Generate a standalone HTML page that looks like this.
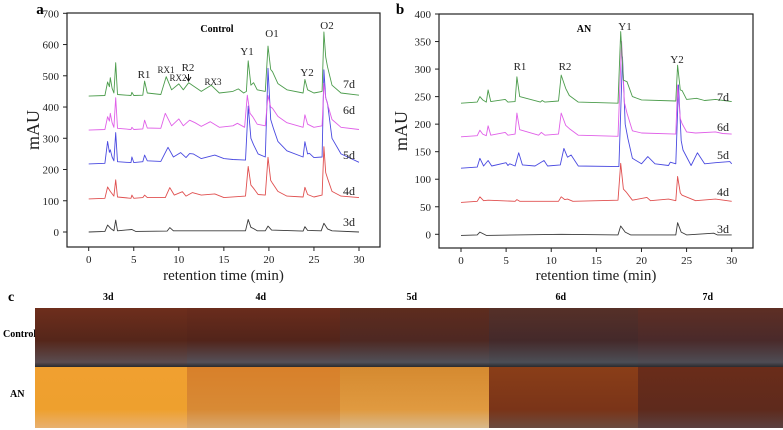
<!DOCTYPE html>
<html><head><meta charset="utf-8"><style>
body{margin:0;width:783px;height:430px;background:#fff;overflow:hidden;font-family:"Liberation Serif",serif;position:relative}
svg{position:absolute;left:0;top:0}
.ph{position:absolute}
.lbl{position:absolute;font-family:"Liberation Serif",serif;font-weight:bold;font-size:10px;color:#000}
</style></head><body>
<svg id="chart" width="783" height="300"></svg>

<div class="lbl" style="left:8px;top:290px;font-size:14px">c</div>
<div class="lbl" style="left:3px;top:329px">Control</div>
<div class="lbl" style="left:10px;top:389px">AN</div>
<div id="photos"></div>

<script>
const NS="http://www.w3.org/2000/svg";
const svg=document.getElementById('chart');
function el(tag,attrs,parent){const e=document.createElementNS(NS,tag);for(const k in attrs)e.setAttribute(k,attrs[k]);(parent||svg).appendChild(e);return e;}
function txt(x,y,s,size,opts,parent){const t=el('text',Object.assign({x:x,y:y,'font-size':size,'font-family':'Liberation Serif, serif','text-anchor':'middle',fill:'#222'},opts||{}),parent);t.textContent=s;return t;}

// ---- Panel A data (Control) ----
const dayLabels=["3d","4d","5d","6d","7d"];
const xTicks=[0,5,10,15,20,25,30];
const aYTicks=[0,100,200,300,400,500,600,700];
const bYTicks=[0,50,100,150,200,250,300,350,400];
const a7t=[0,1.8,2.1,2.3,2.4,2.6,2.8,3.0,3.2,4.7,4.8,5.0,6.0,6.2,6.5,8.0,8.6,9.2,10.0,10.5,11.1,11.5,12.5,13.6,14.5,16.0,16.6,17.2,17.5,17.7,18.0,18.3,18.7,19.6,19.9,20.2,20.4,21,22,23.8,24.0,24.3,25,25.9,26.1,26.3,26.5,27,28,30];
const a7v=[435,437,480,465,494,460,445,542,440,437,447,437,438,483,445,440,497,455,474,455,478,470,450,470,445,450,458,445,450,548,470,478,455,450,595,520,513,475,455,445,488,455,445,450,640,560,529,470,445,438];
const a6t=[0,1.8,2.1,2.3,2.4,2.6,2.8,3.0,3.2,4.7,4.8,5.0,6.0,6.2,6.5,8.0,8.5,9.2,10.0,10.5,11.2,11.8,12.5,13.5,14.5,16.0,16.5,17.3,17.6,17.9,18.2,18.7,19.6,19.9,20.2,20.4,21,22,23.8,24.0,24.3,25,25.9,26.1,26.3,26.5,27,28,30];
const a6v=[326,328,369,355,380,350,335,430,332,328,335,328,330,358,333,332,380,340,362,340,358,350,338,353,335,340,348,335,438,380,369,345,340,437,400,396,370,350,335,375,345,335,340,476,430,410,360,335,328];
const a5t=[0,1.8,2.1,2.3,2.4,2.6,2.8,3.0,3.2,4.7,4.8,5.0,6.0,6.2,6.5,8.0,8.8,9.4,10.2,10.8,11.2,11.6,12.5,14.0,15,16.0,16.8,17.4,17.7,18.0,18.3,18.8,19.6,19.9,20.2,20.5,21,22,23.8,24.0,24.3,24.5,25,25.9,26.1,26.3,26.5,27,28,30];
const a5v=[218,220,290,255,263,240,228,318,225,222,240,222,225,246,228,226,271,240,254,238,251,250,235,246,235,232,231,230,403,300,279,250,240,524,360,332,290,260,240,289,250,252,238,240,519,430,412,300,250,223];
const a4t=[0,1.8,2.1,2.4,2.8,3.0,3.2,4.7,4.8,5.0,6.0,6.2,6.5,8.5,9.0,9.5,10.4,10.8,11.5,12.5,14.0,15,17.4,17.7,18.0,18.3,18.8,19.6,19.9,20.2,20.4,21,22,23.8,24.0,24.3,25,25.9,26.1,26.3,26.5,27,28,30];
const a4v=[106,108,144,130,115,167,112,108,118,108,110,118,110,110,142,118,129,115,126,118,122,110,115,210,150,140,120,118,239,165,156,130,115,112,143,120,112,118,273,190,172,130,115,110];
const a3t=[0,1.8,2.1,2.5,2.8,3.0,3.2,4.8,5.2,8.7,9.0,9.4,17.4,17.7,18.0,18.3,18.7,19.6,19.9,20.3,23.8,24.0,24.3,25.8,26.1,26.5,27,30];
const a3v=[0,2,22,10,4,38,4,8,2,3,14,4,4,40,15,11,4,4,19,6,3,17,5,4,28,10,4,0];

// ---- Panel B data (AN) ----
const b7t=[0,1.8,2.1,2.4,2.8,3.0,3.3,4.9,5.2,6.0,6.2,6.5,8.8,9,9.3,10.8,11.1,11.6,12,13,17.4,17.7,18.0,18.4,19,20,23.8,24.0,24.3,24.5,25,26.1,27,28.2,30];
const b7v=[238,240,250,244,240,262,241,245,240,241,286,250,240,243,240,242,289,265,252,240,238,368,280,277,250,244,242,307,262,261,245,247,243,245,241];
const b6t=[0,1.8,2.1,2.4,2.8,3.0,3.3,4.9,5.2,6.0,6.2,6.5,8.6,8.9,9.3,10.8,11.1,11.6,12,13,17.4,17.8,18.1,18.4,19,20,23.8,24.0,24.3,24.5,25,26,28.2,29,30];
const b6v=[177,179,189,182,179,197,180,185,180,182,220,190,180,185,180,182,220,198,192,180,178,350,240,220,188,184,182,271,210,201,186,184,186,183,182];
const b5t=[0,1.8,2.1,2.5,3.0,3.4,5.0,5.2,5.4,6.0,6.4,6.8,8.2,9.2,9.6,11.0,11.4,11.8,12.2,13,17.5,17.9,18.2,18.5,19,20,20.7,21.5,23,23.2,23.8,24.1,24.4,24.6,25.5,26.2,27,28.2,29.8,30];
const b5v=[120,122,138,124,134,124,130,125,128,124,148,126,124,134,124,126,156,140,144,124,123,322,200,174,138,128,141,128,125,131,128,271,170,153,125,148,128,130,132,128];
const b4t=[0,1.8,2.1,2.5,3,6.0,6.2,6.5,10.8,11.1,11.5,11.8,12.4,17.4,17.7,18.0,18.3,19,20.6,21,23,23.8,24.0,24.3,24.5,26,28.2,30];
const b4v=[58,60,68,61,62,60,63,60,60,68,63,64,60,62,129,82,77,62,67,61,64,61,105,75,71,61,64,60];
const b3t=[0,1.8,2.1,2.8,11.1,17.4,17.7,18.2,18.8,23.8,24.0,24.4,25,28.0,28.4,30];
const b3v=[-2,-1,4,-2,0,-1,15,4,-1,-1,21,4,-1,2,-1,-1];

const colors=["#3a3a3a","#e05050","#4a4ae0","#e060e8","#4c9c4c"];

function panel(cfg){
  const g=el('g',{});
  const {L,T,R,B,x0,x30,y0,yTop,yMax}=cfg;
  const sx=t=>x0+(x30-x0)*t/30;
  const sy=v=>y0-(y0-yTop)*v/yMax;
  el('rect',{x:L,y:T,width:R-L,height:B-T,fill:'none',stroke:'#222','stroke-width':1.2,},g);
  xTicks.forEach(t=>{
    const l=el('line',{x1:sx(t),x2:sx(t),y1:B,y2:B+4,stroke:'#222'},g);
    
    
    const tx=txt(sx(t),B+16,String(t),11,{},g);
    
    
  });
  cfg.yTicks.forEach(v=>{
    const l=el('line',{x1:L-4,x2:L,y1:sy(v),y2:sy(v),stroke:'#222'},g);
    
    
    const tx=txt(L-8,sy(v)+4,String(v),11,{'text-anchor':'end'},g);
    
    
  });
  cfg.series.forEach((s,i)=>{
    const pts=s[0].map((t,j)=>sx(t).toFixed(1)+','+sy(s[1][j]).toFixed(1)).join(' ');
    const p=el('polyline',{points:pts,fill:'none',stroke:colors[i],'stroke-width':0.9,'stroke-linejoin':'round'},g);
    
    
    const lt=txt(cfg.dayX,cfg.dayY[i],dayLabels[i],12,{},g);
    
    
  });
  const yl=txt(0,0,'mAU',18,{transform:`translate(${cfg.yLabX},${(T+B)/2}) rotate(-90)`},g);
  
  
  const xl=txt((L+R)/2,280,'retention time (min)',15,{},g);
  
  
  const pl=txt(cfg.letterX,14,cfg.letter,15,{'font-weight':'bold','fill':'#000'},g);
  
  
  const tl=txt(cfg.titleX,32,cfg.title,10,{'font-weight':'bold','fill':'#000'},g);
  
  
  cfg.peaks.forEach(p=>{
    const pt=txt(p[0],p[1],p[2],p[3],{},g);
    
    
  });
  return g;
}

panel({name:'panel-a-control',L:67,T:13,R:380,B:247,x0:88.7,x30:359,y0:232,yTop:13.3,yMax:700,yTicks:aYTicks,
  series:[[a3t,a3v],[a4t,a4v],[a5t,a5v],[a6t,a6v],[a7t,a7v]],dayX:349,dayY:[226,195,159,114,88],
  yLabX:39,letter:'a',letterX:40,title:'Control',titleX:217,
  peaks:[[144,78,'R1',11],[166,73,'RX1',9],[178,81,'RX2',9],[188,71,'R2',11],[213,85,'RX3',9],[247,55,'Y1',11],[272,37,'O1',11],[307,76,'Y2',11],[327,29,'O2',11]]});
panel({name:'panel-b-an',L:439,T:14,R:753,B:248,x0:461,x30:731.7,y0:234.3,yTop:14,yMax:400,yTicks:bYTicks,
  series:[[b3t,b3v],[b4t,b4v],[b5t,b5v],[b6t,b6v],[b7t,b7v]],dayX:723,dayY:[233,196,159,131,101],
  yLabX:407,letter:'b',letterX:400,title:'AN',titleX:584,
  peaks:[[520,70,'R1',11],[565,70,'R2',11],[625,30,'Y1',11],[677,63,'Y2',11]]});
// arrow for R2
el('path',{d:'M188.5,74 L188.5,80 M186,77 L188.5,81 L191,77',stroke:'#111',fill:'none','stroke-width':1,});

// ---- Photos ----
const cols=[[35,187],[187,340],[340,489],[489,638],[638,783]];
const ctrl=[["#6e2e1c","#55261a","#5a4c50"],["#6a2c1c","#52241a","#545058"],["#5e2c1e","#4e2822","#505058"],["#563028","#44292a","#4c4e56"],["#5e2e24","#4a2a2a","#4e4c54"]];
const an=[["#f0a030","#eea02e","#e8b070"],["#d8802a","#d88a35","#d8a870"],["#d58a30","#e09a40","#d8b88a"],["#8a3e18","#7a3418","#6a4a40"],["#6a2c1a","#5e2a1c","#5a4040"]];
const ph=document.getElementById('photos');
cols.forEach((c,i)=>{
  const h=document.createElement('div');
  h.className='lbl';
  h.style.cssText=`left:${(c[0]+c[1])/2-8}px;top:292px;`;
  h.textContent=dayLabels[i];
  
  
  ph.appendChild(h);
  const a=document.createElement('div');
  a.className='ph';
  a.style.cssText=`left:${c[0]}px;top:308px;width:${c[1]-c[0]}px;height:59px;background:linear-gradient(${ctrl[i][0]},${ctrl[i][1]} 55%,${ctrl[i][2]} 92%,#2a2a2e)`;
  
  
  ph.appendChild(a);
  const b=document.createElement('div');
  b.className='ph';
  b.style.cssText=`left:${c[0]}px;top:367px;width:${c[1]-c[0]}px;height:61px;background:linear-gradient(${an[i][0]},${an[i][1]} 70%,${an[i][2]})`;
  
  
  ph.appendChild(b);
});
</script>
</body></html>
